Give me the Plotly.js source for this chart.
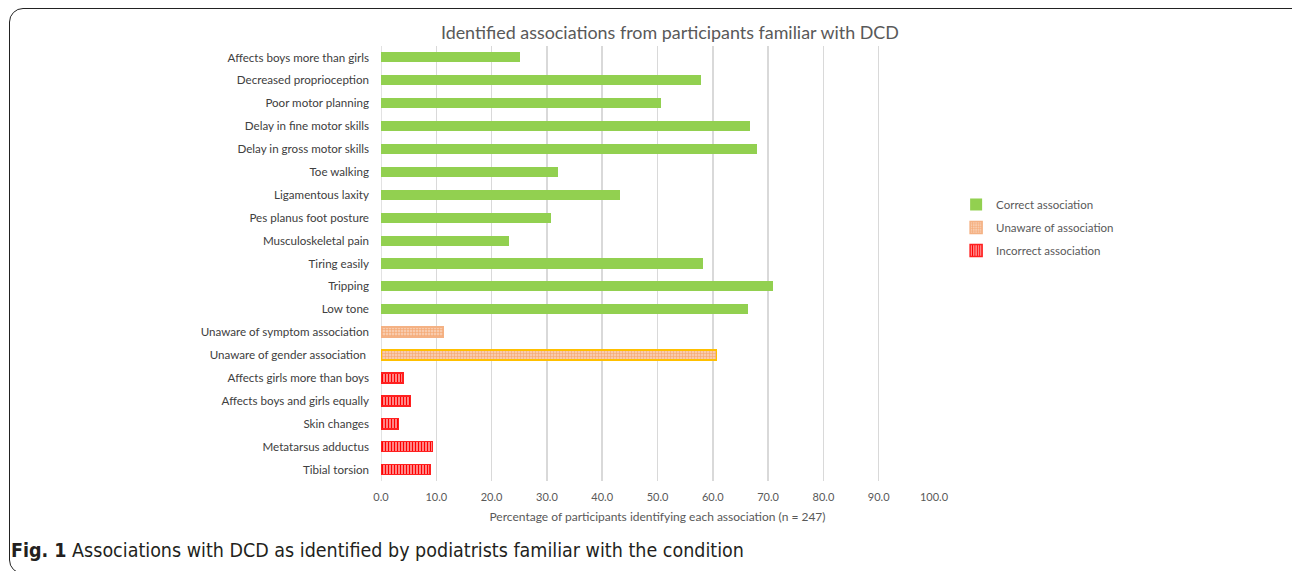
<!DOCTYPE html>
<html>
<head>
<meta charset="utf-8">
<script src="https://cdn.plot.ly/plotly-3.0.1.min.js"></script>
<style>
html,body{margin:0;padding:0;background:#fff;overflow:hidden;width:1292px;height:571px;}
#frame{position:absolute;left:9px;top:8px;width:1320px;height:566px;border:1.8px solid #222;border-radius:14px;box-sizing:border-box;pointer-events:none;z-index:5;}
#chart{position:absolute;left:0;top:0;width:1292px;height:571px;}
</style>
</head>
<body>
<div id="frame"></div>
<div id="chart"></div>
<script>
// Categories, top to bottom
const categories = [
  "Affects boys more than girls",
  "Decreased proprioception",
  "Poor motor planning",
  "Delay in fine motor skills",
  "Delay in gross motor skills",
  "Toe walking",
  "Ligamentous laxity",
  "Pes planus foot posture",
  "Musculoskeletal pain",
  "Tiring easily",
  "Tripping",
  "Low tone",
  "Unaware of symptom association",
  "Unaware of gender association ",
  "Affects girls more than boys",
  "Affects boys and girls equally",
  "Skin changes",
  "Metatarsus adductus",
  "Tibial torsion"
];

const correctLabels = categories.slice(0, 12);
const correctValues = [25.1, 57.9, 50.6, 66.8, 68.0, 32.0, 43.3, 30.8, 23.1, 58.3, 70.9, 66.4];

const unawareLabels = categories.slice(12, 14);
const unawareValues = [11.3, 60.7];

const incorrectLabels = categories.slice(14);
const incorrectValues = [4.0, 5.3, 3.2, 9.3, 8.9];

const xTicks = [0, 10, 20, 30, 40, 50, 60, 70, 80, 90, 100];
const xTickText = xTicks.map(v => v.toFixed(1));

const traces = [
  {
    type: 'bar', orientation: 'h', name: 'Correct association', legendgroup: 'g1',
    x: correctValues, y: correctLabels,
    marker: {color: '#92D050', line: {width: 0}}
  },
  {
    type: 'bar', orientation: 'h', name: 'Unaware of association', legendgroup: 'g2',
    x: unawareValues, y: unawareLabels,
    marker: {
      color: '#F8CBAD',
      pattern: {shape: '+', fgcolor: '#F4A46E', bgcolor: '#F8CBAD', size: 3, solidity: 0.35},
      line: {color: ['#F4B183', '#FFC000'], width: 1.5}
    }
  },
  {
    type: 'bar', orientation: 'h', name: 'Incorrect association', legendgroup: 'g3',
    x: incorrectValues, y: incorrectLabels,
    marker: {
      color: '#FF8080',
      pattern: {shape: '|', fgcolor: '#FF0000', bgcolor: '#FFB0B0', size: 3, solidity: 0.5},
      line: {color: '#FF2020', width: 1.5}
    }
  }
];

const layout = {
  width: 1292, height: 571,
  paper_bgcolor: 'rgba(0,0,0,0)', plot_bgcolor: 'rgba(0,0,0,0)',
  margin: {l: 381, r: 358, t: 46, b: 90, pad: 0},
  barmode: 'stack', bargap: 0.56,
  font: {family: 'Lato, "Open Sans", sans-serif', color: '#595959', size: 11},
  title: {
    text: 'Identified associations from participants familiar with DCD',
    font: {family: 'Lato, "Open Sans", sans-serif', size: 17.9, color: '#595959'},
    x: 675 / 1292, xanchor: 'center', xref: 'paper', y: 0.942, yanchor: 'middle'
  },
  xaxis: {
    range: [0, 100], tickvals: xTicks, ticktext: xTickText,
    showgrid: true, gridcolor: '#D9D9D9', gridwidth: 1.5,
    zeroline: false, showline: false, ticks: '', ticklabelstandoff: 8,
    tickfont: {size: 11, color: '#595959'},
    title: {text: 'Percentage of participants identifying each association (n = 247)',
            font: {size: 12, color: '#595959'}, standoff: 10},
    fixedrange: true
  },
  yaxis: {
    type: 'category', categoryorder: 'array', categoryarray: categories,
    autorange: 'reversed', showgrid: false, zeroline: false,
    showline: false, ticks: '', ticklabelstandoff: 11,
    tickfont: {size: 11.6, color: '#404040'},
    fixedrange: true
  },
  legend: {
    x: 1.04, y: 0.669, xanchor: 'left', yanchor: 'top',
    font: {size: 11.5, color: '#595959'},
    tracegroupgap: 4, itemwidth: 30, traceorder: 'grouped',
    bgcolor: 'rgba(0,0,0,0)'
  },
  shapes: [
    {type: 'line', xref: 'x', yref: 'paper', x0: 0, x1: 0, y0: 0, y1: 1,
     line: {color: '#D9D9D9', width: 1.5}, layer: 'below'}
  ],
  annotations: [
    {
      xref: 'paper', yref: 'paper',
      x: (9 - 381) / 553, y: -0.16, xanchor: 'left', yanchor: 'middle',
      showarrow: false, align: 'left',
      text: '<b>Fig. 1</b> Associations with DCD as identified by podiatrists familiar with the condition',
      font: {family: '"Liberation Sans Narrow", "DejaVu Sans Condensed", sans-serif', size: 19.5, color: '#231F20'}
    }
  ]
};

Plotly.newPlot('chart', traces, layout, {displayModeBar: false, staticPlot: true});
</script>
</body>
</html>
